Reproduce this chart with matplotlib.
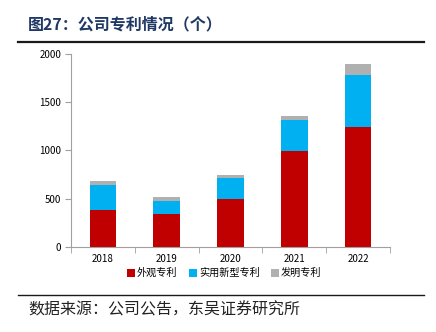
import matplotlib
matplotlib.use('Agg')
import matplotlib.pyplot as plt
import numpy as np

plt.rcParams['font.family'] = ['Noto Sans CJK SC', 'DejaVu Sans']
plt.rcParams['axes.unicode_minus'] = False

years = ['2018', '2019', '2020', '2021', '2022']
design = [380, 340, 494, 990, 1244]      # 外观专利
utility = [259, 130, 215, 330, 538]      # 实用新型专利
invention = [45, 45, 34, 38, 114]        # 发明专利

labels = ['外观专利', '实用新型专利', '发明专利']
colors = ['#C00000', '#00B0F0', '#B0B0B0']

fig = plt.figure(figsize=(4.36, 3.32), dpi=100)
fig.patch.set_facecolor('white')

# header and footer
fig.text(28 / 436, 1 - 24 / 332, '图27：公司专利情况（个）', ha='left', va='center',
         fontsize=11.5, fontweight='bold', color='#1F3864')
fig.add_artist(plt.Line2D([18 / 436, 424 / 436], [1 - 42 / 332] * 2, color='#1a1a1a', lw=1.6))
fig.add_artist(plt.Line2D([18 / 436, 424 / 436], [1 - 295 / 332] * 2, color='#1a1a1a', lw=1.0))
fig.text(28 / 436, 1 - 310 / 332, '数据来源：公司公告，东吴证券研究所', ha='left', va='center',
         fontsize=11.5, color='#222222')

ax = fig.add_axes([71 / 436, 1 - 246.7 / 332, (390 - 71) / 436, (246.7 - 54) / 332])
x = np.arange(len(years))
w = 0.42
d = np.array(design)
u = np.array(utility)
v = np.array(invention)
ax.bar(x, d, w, color=colors[0], label=labels[0])
ax.bar(x, u, w, bottom=d, color=colors[1], label=labels[1])
ax.bar(x, v, w, bottom=d + u, color=colors[2], label=labels[2])

ax.set_xlim(-0.5, len(years) - 0.5)
ax.set_ylim(0, 2000)
ax.set_yticks([0, 500, 1000, 1500, 2000])
ax.set_xticks(x)
ax.set_xticklabels(years)
ax.set_xticks(np.arange(-0.5, len(years), 1.0), minor=True)
ax.tick_params(axis='x', which='major', length=0, pad=5, labelsize=7)
ax.tick_params(axis='x', which='minor', length=4, color='#A0A0A0', direction='out')
ax.tick_params(axis='y', length=4, color='#A0A0A0', labelsize=7, pad=3)
for s in ['top', 'right']:
    ax.spines[s].set_visible(False)
for s in ['left', 'bottom']:
    ax.spines[s].set_color('#A0A0A0')
    ax.spines[s].set_linewidth(0.8)

ax.legend(loc='upper center', bbox_to_anchor=(0.48, -0.09), ncol=3, frameon=False,
          fontsize=7.3, handlelength=0.8, handleheight=0.8, handletextpad=0.2,
          columnspacing=1.1, borderaxespad=0)

fig.savefig('out.png', dpi=100, facecolor='white')
